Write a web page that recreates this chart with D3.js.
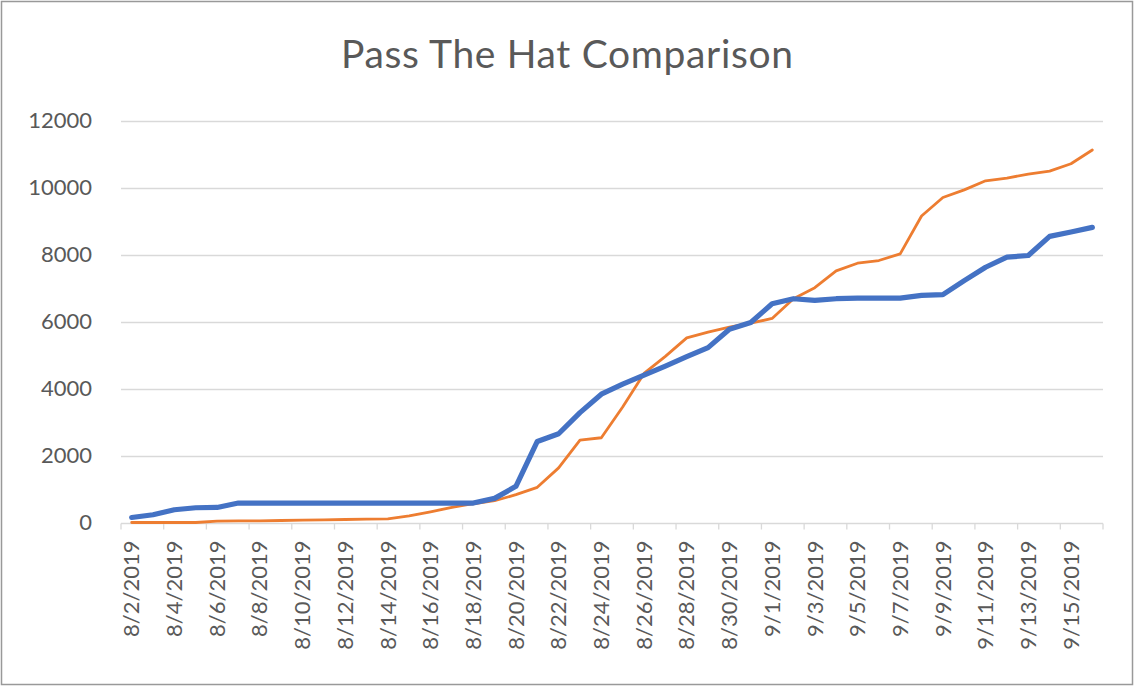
<!DOCTYPE html>
<meta charset="utf-8">
<style>
body { margin: 0; background: #fff; }
text { font-family: Lato, "Open Sans", sans-serif; fill: #595959; }
</style>
<svg width="1135" height="686"></svg>
<script src="https://d3js.org/d3.v7.min.js"></script>
<script>

var dates = ["8/2/2019","8/3/2019","8/4/2019","8/5/2019","8/6/2019","8/7/2019","8/8/2019","8/9/2019",
  "8/10/2019","8/11/2019","8/12/2019","8/13/2019","8/14/2019","8/15/2019","8/16/2019","8/17/2019",
  "8/18/2019","8/19/2019","8/20/2019","8/21/2019","8/22/2019","8/23/2019","8/24/2019","8/25/2019",
  "8/26/2019","8/27/2019","8/28/2019","8/29/2019","8/30/2019","8/31/2019","9/1/2019","9/2/2019",
  "9/3/2019","9/4/2019","9/5/2019","9/6/2019","9/7/2019","9/8/2019","9/9/2019","9/10/2019",
  "9/11/2019","9/12/2019","9/13/2019","9/14/2019","9/15/2019","9/16/2019"];

// orange series (thin line)
var orangeVals = [0,0,0,0,40,50,50,60,70,80,90,100,110,200,320,450,
  560,650,830,1050,1630,2460,2530,3450,4450,4960,5510,5680,5830,5950,6090,6680,
  7010,7510,7740,7820,8020,9150,9700,9930,10200,10280,10400,10490,10710,11120];

// blue series (thick line)
var blueVals = [150,230,380,440,450,580,580,580,580,580,580,580,580,580,580,580,
  580,720,1080,2420,2650,3280,3830,4130,4400,4670,4950,5220,5770,5970,6530,6680,
  6630,6680,6700,6700,6700,6780,6800,7220,7620,7920,7970,8540,8670,8810];

var yTicks = [0,2000,4000,6000,8000,10000,12000];

var svg = d3.select("svg"),
    width = +svg.attr("width"),
    height = +svg.attr("height");

// chart border
svg.append("rect")
  .attr("x", 1.5).attr("y", 1.5)
  .attr("width", width - 4).attr("height", height - 3)
  .attr("fill", "#fff").attr("stroke", "#999").attr("stroke-width", 1.5);

var x = d3.scaleBand().domain(dates).range([121, 1103]).padding(0);
var y = d3.scaleLinear().domain([0, 12000]).range([522.5, 120.5]);

svg.append("text")
  .attr("x", 567).attr("y", 68)
  .attr("text-anchor", "middle")
  .style("font-size", "39px")
  .attr("textLength", 452)
  .attr("lengthAdjust", "spacing")
  .text("Pass The Hat Comparison");

// gridlines
svg.append("g").selectAll("line")
  .data(yTicks.slice(1))
  .enter().append("line")
    .attr("x1", x.range()[0]).attr("x2", x.range()[1])
    .attr("y1", function(d) { return Math.round(y(d)) + 0.5; })
    .attr("y2", function(d) { return Math.round(y(d)) + 0.5; })
    .attr("stroke", "#d9d9d9").attr("stroke-width", 1.3);

// y axis labels
var yAxis = d3.axisLeft(y).tickValues(yTicks).tickSize(0).tickPadding(0).tickFormat(d3.format("d"));
var gy = svg.append("g").attr("transform", "translate(92,0)").call(yAxis);
gy.select(".domain").remove();
gy.selectAll("text").style("font-size", "22px").attr("fill", "#595959");

// x axis line + tick marks at band boundaries
var base = Math.round(y(0)) + 0.5;
svg.append("line")
  .attr("x1", x.range()[0]).attr("x2", x.range()[1])
  .attr("y1", base).attr("y2", base)
  .attr("stroke", "#d9d9d9").attr("stroke-width", 1.3);

var labelDates = dates.filter(function(d, i) { return i % 2 === 0; });
var tickPos = labelDates.map(function(d) { return x(d); }).concat([x.range()[1]]);
svg.append("g").selectAll("line")
  .data(tickPos)
  .enter().append("line")
    .attr("x1", function(d) { return d; }).attr("x2", function(d) { return d; })
    .attr("y1", base).attr("y2", base + 6)
    .attr("stroke", "#d9d9d9").attr("stroke-width", 1.3);

// x labels, rotated
var xAxis = d3.axisBottom(x).tickValues(labelDates).tickSize(0).tickPadding(0);
var gx = svg.append("g").attr("transform", "translate(0," + base + ")").call(xAxis);
gx.select(".domain").remove();
gx.selectAll("text")
  .style("font-size", "22px")
  .attr("fill", "#595959")
  .attr("text-anchor", "end")
  .attr("transform", "rotate(-90)")
  .attr("x", -17)
  .attr("y", 0)
  .attr("dy", "0.35em");

var line = d3.line()
  .x(function(d, i) { return x(dates[i]) + x.bandwidth() / 2; })
  .y(function(d) { return y(d); });

svg.append("path")
  .datum(orangeVals)
  .attr("fill", "none")
  .attr("stroke", "#ed7d31")
  .attr("stroke-width", 2.8)
  .attr("stroke-linejoin", "round")
  .attr("stroke-linecap", "round")
  .attr("d", line);

svg.append("path")
  .datum(blueVals)
  .attr("fill", "none")
  .attr("stroke", "#4472c4")
  .attr("stroke-width", 5.2)
  .attr("stroke-linejoin", "round")
  .attr("stroke-linecap", "round")
  .attr("d", line);

</script>
